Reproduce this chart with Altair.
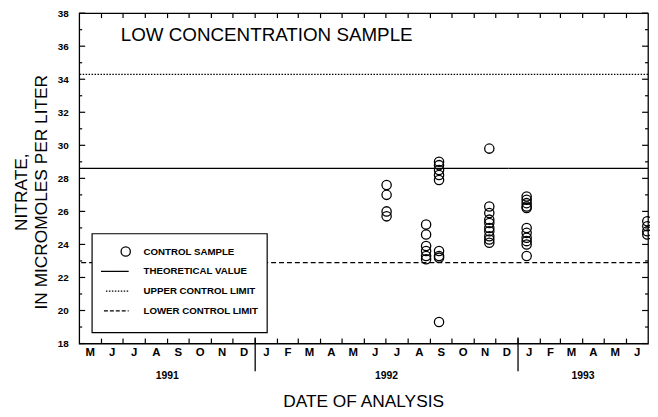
import altair as alt
import pandas as pd

# ---------------- data ----------------
SAMPLE_DATES = ["1992-07-02", "1992-08-26", "1992-09-13", "1992-11-22", "1993-01-13", "1993-06-30"]
SAMPLE_VALUES = [
    [27.6, 27.0, 26.0, 25.7],
    [25.2, 24.6, 23.9, 23.6, 23.3, 23.1],
    [29.0, 28.8, 28.5, 28.2, 27.9, 23.6, 23.3, 23.2, 19.3],
    [29.8, 26.3, 25.9, 25.5, 25.3, 25.0, 24.8, 24.5, 24.3, 24.1],
    [26.9, 26.7, 26.5, 26.3, 26.2, 25.0, 24.7, 24.4, 24.2, 24.0, 23.3],
    [25.4, 25.1, 24.8, 24.6],
]
THEORETICAL = 28.6
UPPER_LIMIT = 34.3
LOWER_LIMIT = 22.9

MONTH_LABELS = list("MJJASOND") + list("JFMAMJJASOND") + list("JFMAMJ")
YEAR_LABELS = ["1991", "1992", "1993"]
YEAR_DIVIDERS = ["1992-01-01", "1993-01-01"]
Y_MAJOR = list(range(18, 39, 2))
Y_MINOR = list(range(19, 38, 2))

START, END = "1991-05-01", "1993-07-01"

# ---------------- tables ----------------
pts = pd.DataFrame(
    [{"date": d, "value": v} for d, vals in zip(SAMPLE_DATES, SAMPLE_VALUES) for v in vals]
)
month_starts = pd.date_range(START, END, freq="MS")
months = pd.DataFrame({
    "mid": [(a + (b - a) / 2).strftime("%Y-%m-%dT%H:%M:%S") for a, b in zip(month_starts[:-1], month_starts[1:])],
    "label": MONTH_LABELS,
})
inner_ticks = pd.DataFrame({"date": [d.strftime("%Y-%m-%d") for d in month_starts[1:-1]]})
bounds = [pd.Timestamp(START)] + [pd.Timestamp(d) for d in YEAR_DIVIDERS] + [pd.Timestamp(END)]
years = pd.DataFrame({
    "mid": [(a + (b - a) / 2).strftime("%Y-%m-%dT%H:%M:%S") for a, b in zip(bounds[:-1], bounds[1:])],
    "label": YEAR_LABELS,
})
dividers = pd.DataFrame({"date": YEAR_DIVIDERS})
limits = pd.DataFrame({
    "value": [THEORETICAL, UPPER_LIMIT, LOWER_LIMIT],
    "kind": ["THEORETICAL VALUE", "UPPER CONTROL LIMIT", "LOWER CONTROL LIMIT"],
})
ymaj = pd.DataFrame({"v": Y_MAJOR})
ymin = pd.DataFrame({"v": Y_MINOR})

W, H = 575, 334
FONT = "Liberation Sans"
xs = alt.Scale(type="utc", domain=[alt.DateTime(year=1991, month=5, date=1, utc=True),
                                   alt.DateTime(year=1993, month=7, date=1, utc=True)])
ys = alt.Scale(domain=[18, 38], nice=False, zero=False)

yaxis = alt.Axis(values=Y_MAJOR, labelFontWeight="bold", labelFontSize=10, labelFont=FONT,
                 labelColor="black", ticks=False, domain=False, grid=False, title=None,
                 labelPadding=11, labelFlush=False, labelOverlap=False)


def X(field):
    return alt.X(field, scale=xs, axis=None)


def Y(field):
    return alt.Y(field, scale=ys, axis=yaxis)


points = alt.Chart(pts).mark_point(shape="circle", filled=False, color="black",
                                   size=88, strokeWidth=1.3, opacity=1).encode(
    x=X("date:T"), y=Y("value:Q"))


def hline(kind, dash):
    return alt.Chart(limits[limits.kind == kind]).mark_rule(
        color="black", strokeWidth=1.3, strokeDash=dash).encode(y=Y("value:Q"))


lines = [hline("THEORETICAL VALUE", [1, 0]),
         hline("UPPER CONTROL LIMIT", [1.5, 1.5]),
         hline("LOWER CONTROL LIMIT", [5, 3])]


def ytick(df, x1, x2):
    return alt.Chart(df).mark_rule(color="black", strokeWidth=1.2).encode(
        y=Y("v:Q"), x=alt.value(x1), x2=alt.value(x2))


yticks = [ytick(ymaj, 0, 6), ytick(ymin, 0, 3), ytick(ymaj, W, W - 6), ytick(ymin, W, W - 3)]


def xtick(y1, y2):
    return alt.Chart(inner_ticks).mark_rule(color="black", strokeWidth=1.2).encode(
        x=X("date:T"), y=alt.value(y1), y2=alt.value(y2))


xticks = [xtick(H, H - 5), xtick(0, 5)]

divs = alt.Chart(dividers).mark_rule(color="black", strokeWidth=1.3).encode(
    x=X("date:T"), y=alt.value(H - 6), y2=alt.value(H + 28))

month_text = alt.Chart(months).mark_text(font=FONT, fontSize=11.5, fontWeight="bold",
                                         color="black", baseline="middle").encode(
    x=X("mid:T"), y=alt.value(H + 10), text="label:N")

year_text = alt.Chart(years).mark_text(font=FONT, fontSize=10.5, fontWeight="bold",
                                       color="black", baseline="middle").encode(
    x=X("mid:T"), y=alt.value(H + 33), text="label:N")


def label(txt, x, y, size, weight="normal", align="left", angle=0):
    return alt.Chart(pd.DataFrame({"t": [txt]})).mark_text(
        font=FONT, fontSize=size, fontWeight=weight, align=align, baseline="middle",
        angle=angle, color="black").encode(text="t:N", x=alt.value(x), y=alt.value(y))


texts = [
    label("LOW CONCENTRATION SAMPLE", 42, 22, 19),
    label("DATE OF ANALYSIS", W / 2, H + 59, 17.5, align="center"),
    label("NITRATE,", -58, 181, 17.5, align="center", angle=270),
    label("IN MICROMOLES PER LITER", -38, 181, 17.5, align="center", angle=270),
]

# ---------------- legend box ----------------
LX0, LX1, LY0, LY1 = 13, 190, 223, 323
legend_box = alt.Chart(pd.DataFrame({"a": [0]})).mark_rect(
    fill="white", stroke="black", strokeWidth=1.2).encode(
    x=alt.value(LX0), x2=alt.value(LX1), y=alt.value(LY0), y2=alt.value(LY1))
legend_pt = alt.Chart(pd.DataFrame({"a": [0]})).mark_point(
    shape="circle", filled=False, color="black", size=88, strokeWidth=1.3, opacity=1).encode(
    x=alt.value(47), y=alt.value(241))


def legend_line(y, x1, dash):
    return alt.Chart(pd.DataFrame({"a": [0]})).mark_rule(
        color="black", strokeWidth=1.3, strokeDash=dash).encode(
        x=alt.value(x1), x2=alt.value(50), y=alt.value(y))


legend_items = [
    legend_box, legend_pt,
    legend_line(261, 22, [1, 0]),
    legend_line(281, 27, [1.5, 1.5]),
    legend_line(301, 25, [4, 2]),
    label("CONTROL SAMPLE", 65, 241, 9.8, "bold"),
    label("THEORETICAL VALUE", 65, 261, 9.8, "bold"),
    label("UPPER CONTROL LIMIT", 65, 281, 9.8, "bold"),
    label("LOWER CONTROL LIMIT", 65, 301, 9.8, "bold"),
]

chart = alt.layer(
    *lines, points, *legend_items, *yticks, *xticks, divs, month_text, year_text, *texts
).properties(
    width=W, height=H,
    autosize=alt.AutoSizeParams(type="none"),
    padding={"left": 72, "top": 3, "right": 2, "bottom": 68},
    background="white",
).configure_view(stroke="black", strokeWidth=1.3)

chart.save("out.html", embed_options={"renderer": "svg", "actions": False})
